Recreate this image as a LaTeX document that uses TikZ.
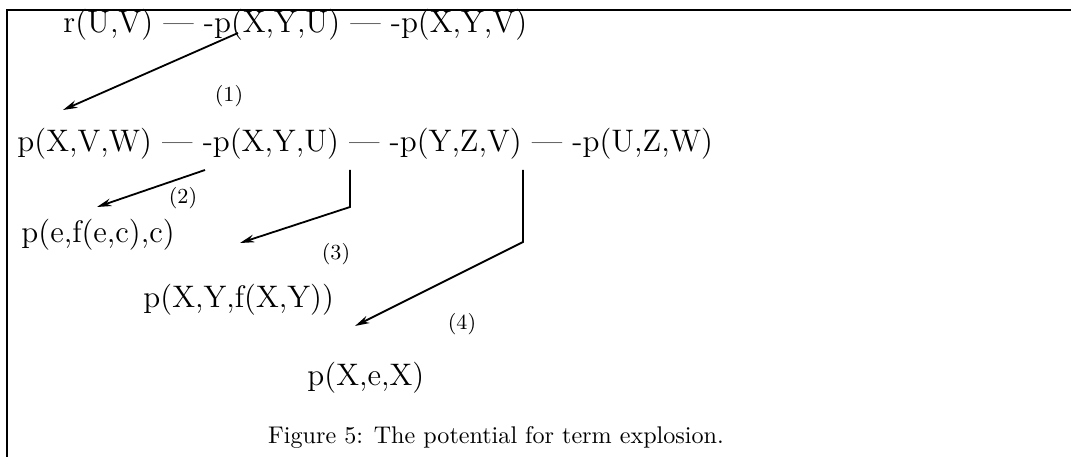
\documentclass[tikz,border=0pt]{standalone}
\usetikzlibrary{arrows.meta}
\begin{document}
\begin{tikzpicture}[x=0.4146pt,y=-0.4146pt,
  term/.style={anchor=west,inner sep=0pt,font=\fontsize{12.9}{15}\selectfont},
  lab/.style={inner sep=0pt,font=\fontsize{8.9}{10}\selectfont},
  captext/.style={inner sep=0pt,font=\fontsize{10}{12}\selectfont},
  conn/.style={line width=0.75pt,-{Stealth[length=6pt,width=3.2pt]}},
  frameline/.style={line width=0.8pt}]
\useasboundingbox (0,0) rectangle (1071,457);
\draw[frameline] (7,457) -- (7,10) -- (1071,10);
\node[term] (l1) at (63,25) {r(U,V) --- -p(X,Y,U) --- -p(X,Y,V)};
\node[term] (l2) at (17,144) {p(X,V,W) --- -p(X,Y,U) --- -p(Y,Z,V) --- -p(U,Z,W)};
\node[term] (t2) at (21,235) {p(e,f(e,c),c)};
\node[term] (t3) at (143,300) {p(X,Y,f(X,Y))};
\node[term] (t4) at (307,378) {p(X,e,X)};
\node[captext] (cap) at (496,437) {Figure 5: The potential for term explosion.};
\node[lab] (n1) at (229,96) {(1)};
\node[lab] (n2) at (183,198) {(2)};
\node[lab] (n3) at (336,254) {(3)};
\node[lab] (n4) at (462,324) {(4)};
\coordinate (a1s) at (238,33);
\coordinate (a1e) at (63,110);
\coordinate (a2s) at (205,170);
\coordinate (a2e) at (97,207);
\coordinate (a3s) at (350,170);
\coordinate (a3b) at (350,207);
\coordinate (a3e) at (240,243);
\coordinate (a4s) at (523,170);
\coordinate (a4b) at (523,242);
\coordinate (a4e) at (355,326);
\draw[conn] (a1s) -- (a1e);
\draw[conn] (a2s) -- (a2e);
\draw[conn] (a3s) -- (a3b) -- (a3e);
\draw[conn] (a4s) -- (a4b) -- (a4e);
\end{tikzpicture}
\end{document}
